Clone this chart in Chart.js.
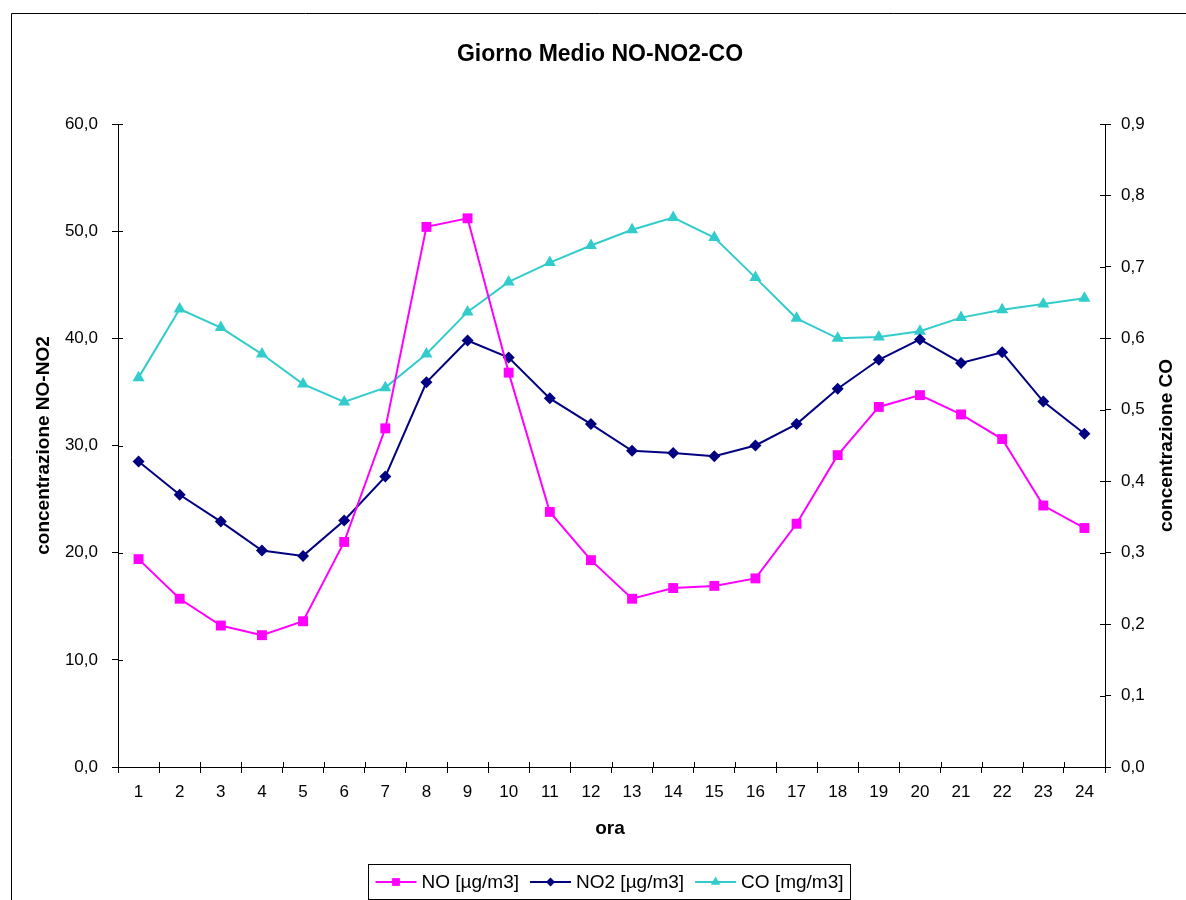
<!DOCTYPE html>
<html>
<head>
<meta charset="utf-8">
<script src="https://cdn.jsdelivr.net/npm/chart.js@4/dist/chart.umd.min.js"></script>
<style>
  html, body { margin: 0; padding: 0; background: #fff; }
  #wrap { width: 1186px; height: 900px; }
</style>
</head>
<body>
<div id="wrap"><canvas id="c" width="1186" height="900"></canvas></div>
<script>
// Hourly averages (hour of day 1..24)
const hours = ['1','2','3','4','5','6','7','8','9','10','11','12','13','14','15','16','17','18','19','20','21','22','23','24'];
const noValues  = [19.4, 15.7, 13.2, 12.3, 13.6, 21.0, 31.6, 50.4, 51.2, 36.8, 23.8, 19.3, 15.7, 16.7, 16.9, 17.6, 22.7, 29.1, 33.6, 34.7, 32.9, 30.6, 24.4, 22.3];
const no2Values = [28.5, 25.4, 22.9, 20.2, 19.7, 23.0, 27.1, 35.9, 39.8, 38.2, 34.4, 32.0, 29.5, 29.3, 29.0, 30.0, 32.0, 35.3, 38.0, 39.9, 37.7, 38.7, 34.1, 31.1];
const coValues  = [0.545, 0.641, 0.615, 0.578, 0.536, 0.511, 0.531, 0.578, 0.637, 0.679, 0.706, 0.730, 0.752, 0.769, 0.741, 0.685, 0.628, 0.600, 0.602, 0.610, 0.629, 0.640, 0.648, 0.656];

const seriesLabels = ['NO [µg/m3]', 'NO2 [µg/m3]', 'CO [mg/m3]'];
const chartTitle = 'Giorno Medio NO-NO2-CO';
const xTitle = 'ora';
const leftTitle = 'concentrazione NO-NO2';
const rightTitle = 'concentrazione CO';

const FONT = '"Liberation Sans", Arial, sans-serif';
const fmt = v => v.toFixed(1).replace('.', ',');

// smaller markers used in the legend samples
const legendMarkerRadius = { rect: 5.5, rectRot: 4.5, triangle: 5.5 };

// Titles, frame, crossing tick marks and the legend box
const decor = {
  id: 'decor',
  afterDraw(chart) {
    const ctx = chart.ctx;
    const a = chart.chartArea;
    ctx.save();

    // outer frame
    ctx.strokeStyle = '#000';
    ctx.lineWidth = 1;
    ctx.beginPath();
    ctx.moveTo(11.5, 1200); ctx.lineTo(11.5, 13.5); ctx.lineTo(1300, 13.5);
    ctx.stroke();

    // inner half of the tick marks
    ctx.beginPath();
    const n = hours.length;
    const w = (a.right - a.left) / n;
    for (let i = 0; i <= n; i++) {
      const x = Math.round(a.left + i * w) + 0.5;
      ctx.moveTo(x, a.bottom); ctx.lineTo(x, a.bottom - 5);
    }
    chart.scales.y.ticks.forEach(t => {
      const y = Math.round(chart.scales.y.getPixelForValue(t.value)) + 0.5;
      ctx.moveTo(a.left, y); ctx.lineTo(a.left + 5, y);
    });
    chart.scales.y1.ticks.forEach(t => {
      const y = Math.round(chart.scales.y1.getPixelForValue(t.value)) + 0.5;
      ctx.moveTo(a.right, y); ctx.lineTo(a.right - 5, y);
    });
    ctx.stroke();

    // chart title
    ctx.fillStyle = '#000';
    ctx.textAlign = 'center';
    ctx.textBaseline = 'middle';
    ctx.font = 'bold 23px ' + FONT;
    ctx.fillText(chartTitle, 600, 55);

    // axis titles
    ctx.font = 'bold 19px ' + FONT;
    const midX = (a.left + a.right) / 2;
    const midY = (a.top + a.bottom) / 2;
    ctx.fillText(xTitle, 610, 829);
    ctx.save();
    ctx.translate(44, midY); ctx.rotate(-Math.PI / 2);
    ctx.fillText(leftTitle, 0, 0);
    ctx.restore();
    ctx.save();
    ctx.translate(1167, midY); ctx.rotate(-Math.PI / 2);
    ctx.fillText(rightTitle, 0, 0);
    ctx.restore();

    // legend
    ctx.font = '19px ' + FONT;
    const sample = 41, gapS = 5, gapI = 11, pad = 7;
    const ds = chart.data.datasets;
    const widths = ds.map(d => ctx.measureText(d.label).width);
    const total = pad * 2 + widths.reduce((s, v) => s + sample + gapS + v, 0) + gapI * (ds.length - 1);
    const bx = Math.round(609 - total / 2) + 0.5, by = 864.5, bh = 35;
    ctx.fillStyle = '#fff';
    ctx.fillRect(bx, by, total, bh);
    ctx.strokeStyle = '#000';
    ctx.lineWidth = 1;
    ctx.strokeRect(bx, by, total, bh);
    let x = bx + pad;
    const cy = by + bh / 2;
    ds.forEach((d, i) => {
      ctx.strokeStyle = d.borderColor;
      ctx.lineWidth = 2;
      ctx.beginPath(); ctx.moveTo(x, cy); ctx.lineTo(x + sample, cy); ctx.stroke();
      ctx.fillStyle = d.pointBackgroundColor;
      Chart.helpers.drawPoint(ctx, {
        pointStyle: d.pointStyle, radius: legendMarkerRadius[d.pointStyle], rotation: 0, borderWidth: 0
      }, x + sample / 2, cy);
      ctx.fillStyle = '#000';
      ctx.textAlign = 'left';
      ctx.fillText(d.label, x + sample + gapS, cy + 1);
      x += sample + gapS + widths[i] + gapI;
    });
    ctx.restore();
  }
};

new Chart(document.getElementById('c'), {
  type: 'line',
  data: {
    labels: hours,
    datasets: [
      {
        label: seriesLabels[0], data: noValues, yAxisID: 'y',
        borderColor: '#FF00FF', backgroundColor: '#FF00FF',
        pointBackgroundColor: '#FF00FF', pointBorderColor: '#FF00FF',
        pointStyle: 'rect', pointRadius: 7, pointBorderWidth: 0, borderWidth: 2, tension: 0
      },
      {
        label: seriesLabels[1], data: no2Values, yAxisID: 'y',
        borderColor: '#000080', backgroundColor: '#000080',
        pointBackgroundColor: '#000080', pointBorderColor: '#000080',
        pointStyle: 'rectRot', pointRadius: 6, pointBorderWidth: 0, borderWidth: 2, tension: 0
      },
      {
        label: seriesLabels[2], data: coValues, yAxisID: 'y1',
        borderColor: '#33CCCC', backgroundColor: '#33CCCC',
        pointBackgroundColor: '#33CCCC', pointBorderColor: '#33CCCC',
        pointStyle: 'triangle', pointRadius: 7, pointBorderWidth: 0, borderWidth: 2, tension: 0
      }
    ]
  },
  options: {
    responsive: false,
    animation: false,
    devicePixelRatio: 1,
    layout: { padding: { top: 124, left: 0, right: 0, bottom: 0 } },
    plugins: { legend: { display: false }, title: { display: false }, tooltip: { enabled: false } },
    scales: {
      x: {
        type: 'category', offset: true,
        grid: { offset: true, drawOnChartArea: false, drawTicks: true, tickLength: 6, color: '#000' },
        border: { display: true, color: '#000', width: 1 },
        ticks: { color: '#000', font: { family: FONT, size: 17 }, padding: 9, maxRotation: 0, autoSkip: false },
        afterFit(s) { s.height = 133; }
      },
      y: {
        position: 'left', min: 0, max: 60,
        grid: { drawOnChartArea: false, drawTicks: true, tickLength: 6, color: '#000' },
        border: { display: true, color: '#000', width: 1 },
        ticks: { stepSize: 10, color: '#000', font: { family: FONT, size: 17 }, padding: 14, callback: v => fmt(v) },
        afterFit(s) { s.width = 118; }
      },
      y1: {
        position: 'right', min: 0, max: 0.9,
        grid: { drawOnChartArea: false, drawTicks: true, tickLength: 6, color: '#000' },
        border: { display: true, color: '#000', width: 1 },
        ticks: { stepSize: 0.1, color: '#000', font: { family: FONT, size: 17 }, padding: 10, callback: v => fmt(v) },
        afterFit(s) { s.width = 81; }
      }
    }
  },
  plugins: [decor]
});
</script>
</body>
</html>
